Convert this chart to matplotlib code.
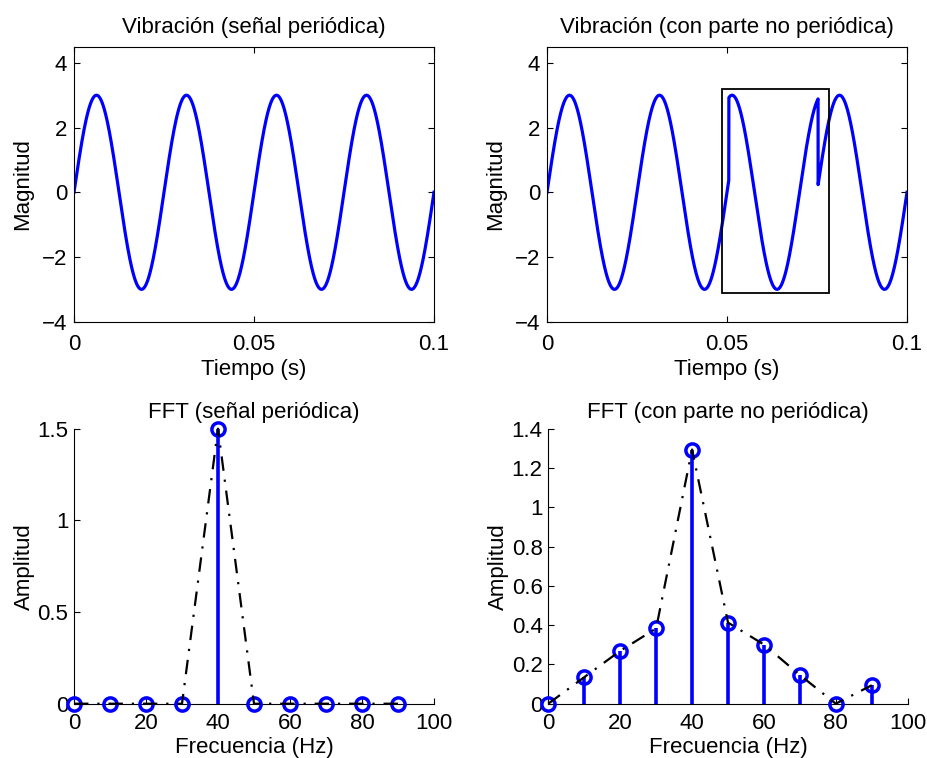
import numpy as np
import matplotlib
matplotlib.use("Agg")
import matplotlib.pyplot as plt
from matplotlib.patches import Rectangle

plt.rcParams['font.family'] = ['Liberation Sans', 'DejaVu Sans']
plt.rcParams['font.size'] = 16

# Signal parameters
amplitude = 3.0
freq_hz = 40.0
t_end = 0.1
seg_start = 0.0505      # start of non-periodic segment
seg_end = 0.0753        # end of non-periodic segment
seg_peak = 0.0514       # first peak inside the segment

# Highlight box (data coords)
box_x = [0.0486, 0.0782]
box_y = [-3.12, 3.2]

# FFT data
freqs = [0, 10, 20, 30, 40, 50, 60, 70, 80, 90]
amp_periodic = [0, 0, 0, 0, 1.5, 0, 0, 0, 0, 0]
amp_nonperiodic = [0, 0.135, 0.269, 0.383, 1.294, 0.413, 0.301, 0.146, 0, 0.094]

t = np.linspace(0, t_end, 8001)
y_per = amplitude * np.sin(2 * np.pi * freq_hz * t)
mask = (t >= seg_start) & (t <= seg_end)
y_non = y_per.copy()
y_non[mask] = amplitude * np.cos(2 * np.pi * freq_hz * (t[mask] - seg_peak))

fig = plt.figure(figsize=(9.27, 7.58), dpi=100)
W, H = 927, 758

def axpos(x0, x1, ytop, ybot):
    return [x0 / W, 1 - ybot / H, (x1 - x0) / W, (ybot - ytop) / H]

ax1 = fig.add_axes(axpos(74, 434, 46.7, 321.7))
ax2 = fig.add_axes(axpos(547, 907, 46.7, 321.7))
ax3 = fig.add_axes(axpos(74, 434, 428.7, 703.7))
ax4 = fig.add_axes(axpos(548.3, 907.7, 428.7, 703.7))

blue = (0, 0, 1)

for ax, y, title in [(ax1, y_per, 'Vibración (señal periódica)'),
                     (ax2, y_non, 'Vibración (con parte no periódica)')]:
    ax.plot(t, y, color=blue, lw=2.3)
    ax.set_xlim(0, t_end)
    ax.set_ylim(-4, 4.5)
    ax.set_xticks([0, 0.05, 0.1])
    ax.set_xticklabels(['0', '0.05', '0.1'])
    ax.set_yticks([-4, -2, 0, 2, 4])
    ax.set_yticklabels(['\u22124', '\u22122', '0', '2', '4'])
    ax.tick_params(direction='in', top=True, right=True, length=4, width=0.8, pad=5)
    ax.tick_params(axis='x', pad=9)
    ax.set_xlabel('Tiempo (s)', labelpad=3)
    ax.set_ylabel('Magnitud', labelpad=6)
    ax.set_title(title, fontsize=16, pad=10)
    for s in ax.spines.values():
        s.set_linewidth(0.8)

ax2.add_patch(Rectangle((box_x[0], box_y[0]), box_x[1] - box_x[0], box_y[1] - box_y[0],
                        fill=False, edgecolor='black', lw=1.3, zorder=5))

for ax, amps, title, ymax, yt, ytl in [
        (ax3, amp_periodic, 'FFT (señal periódica)', 1.5,
         [0, 0.5, 1, 1.5], ['0', '0.5', '1', '1.5']),
        (ax4, amp_nonperiodic, 'FFT (con parte no periódica)', 1.4,
         [0, 0.2, 0.4, 0.6, 0.8, 1, 1.2, 1.4], ['0', '0.2', '0.4', '0.6', '0.8', '1', '1.2', '1.4'])]:
    ax.vlines(freqs, 0, amps, color=blue, lw=2.6, zorder=2)
    ax.plot(freqs, amps, 'o', mfc='none', mec=blue, ms=9.5, mew=2.5, zorder=3, clip_on=False)
    ax.plot(freqs, amps, color='black', lw=1.6, linestyle=(0, (6.5, 4, 1, 4)), zorder=4, clip_on=False)
    ax.set_xlim(0, 100)
    ax.set_ylim(0, ymax)
    ax.set_xticks([0, 20, 40, 60, 80, 100])
    ax.set_yticks(yt)
    ax.set_yticklabels(ytl)
    ax.spines['top'].set_visible(False)
    ax.spines['right'].set_visible(False)
    for s in ax.spines.values():
        s.set_linewidth(0.8)
    ax.tick_params(direction='in', length=4, width=0.8, pad=4)
    ax.tick_params(axis='x', pad=7)
    ax.set_xlabel('Frecuencia (Hz)', labelpad=2)
    ax.set_ylabel('Amplitud', labelpad=2)
    ax.set_title(title, fontsize=16, pad=8)

fig.savefig('out.png', dpi=100)
